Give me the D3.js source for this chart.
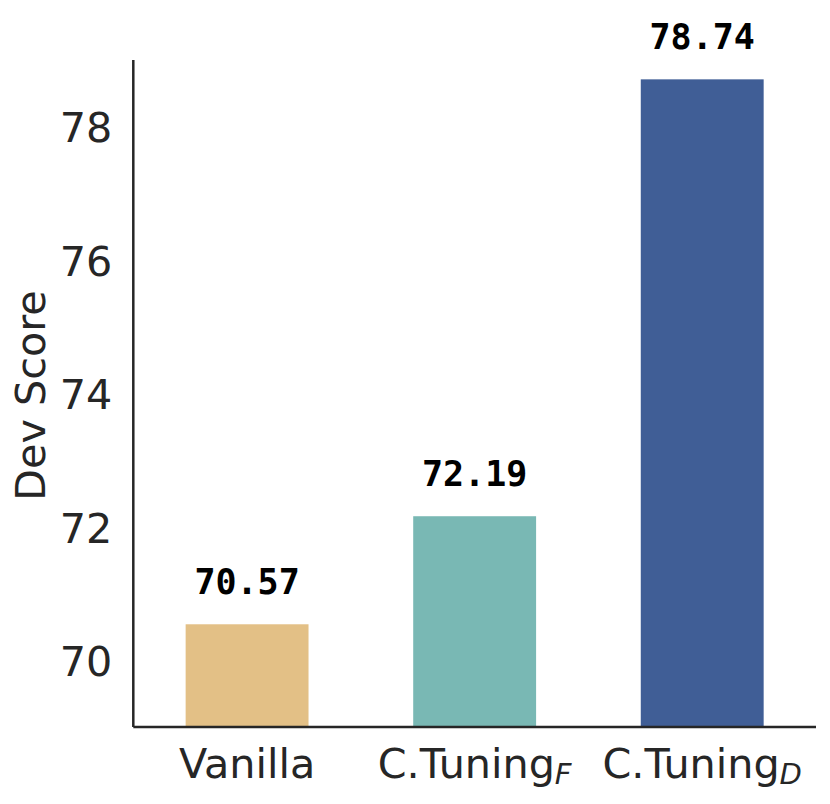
<!DOCTYPE html>
<html>
<head>
<meta charset="utf-8">
<script src="https://cdn.jsdelivr.net/npm/d3@7"></script>
<style>
  body { margin: 0; background: #fff; }
  svg { display: block; }
</style>
</head>
<body>
<svg id="chart" width="830" height="804"></svg>
<script>
const categories = ["Vanilla", "C.Tuning", "C.Tuning"];
const subscripts = ["", "F", "D"];
const values = [70.57, 72.19, 78.74];
const valueLabels = ["70.57", "72.19", "78.74"];
const colors = ["#E3C086", "#79B8B4", "#405E96"];
const yTicks = [70, 72, 74, 76, 78];
const yDomain = [69.03, 79.03];
const yLabel = "Dev Score";

const svg = d3.select("#chart");
const mLeft = 133.3, mRight = 816, mTop = 60, mBottom = 727;

const x = d3.scaleBand()
  .domain(d3.range(categories.length))
  .range([mLeft, mRight])
  .paddingInner(0.46)
  .paddingOuter(0.23);

const y = d3.scaleLinear().domain(yDomain).range([mBottom, mTop]);

const font = "DejaVu Sans, sans-serif";
const fs = 41.3;

// bars
svg.append("g").selectAll("rect")
  .data(values)
  .join("rect")
  .attr("x", (d, i) => x(i))
  .attr("width", x.bandwidth())
  .attr("y", d => y(d))
  .attr("height", d => y(yDomain[0]) - y(d))
  .attr("fill", (d, i) => colors[i]);

// value labels
svg.append("g").selectAll("text")
  .data(values)
  .join("text")
  .attr("x", (d, i) => x(i) + x.bandwidth() / 2)
  .attr("y", d => y(d) - 30)
  .attr("text-anchor", "middle")
  .attr("font-family", "DejaVu Sans Mono, monospace")
  .attr("font-weight", "bold")
  .attr("font-size", 35)
  .attr("fill", "#000")
  .text((d, i) => valueLabels[i]);

// y axis
const yAxis = d3.axisLeft(y).tickValues(yTicks).tickSize(0).tickPadding(21).tickFormat(d3.format("d"));
const gy = svg.append("g").attr("transform", `translate(${mLeft},0)`).call(yAxis);
gy.select(".domain").attr("stroke", "#262626").attr("stroke-width", 2.5).attr("d", `M0,${mTop}V${mBottom}`);
gy.selectAll(".tick text").attr("font-family", font).attr("font-size", fs).attr("fill", "#262626");

// x axis
const xAxis = d3.axisBottom(x).tickSize(0).tickPadding(0).tickFormat(() => "");
const gx = svg.append("g").attr("transform", `translate(0,${mBottom})`).call(xAxis);
gx.select(".domain").attr("stroke", "#262626").attr("stroke-width", 2.5).attr("d", `M${mLeft},0H${mRight}`);
gx.selectAll(".tick text").each(function(d) {
  const t = d3.select(this)
    .attr("y", 51)
    .attr("dy", null)
    .attr("font-family", font)
    .attr("font-size", fs)
    .attr("fill", "#262626")
    .attr("text-anchor", "middle");
  t.text(null);
  t.append("tspan").text(categories[d]);
  if (subscripts[d]) {
    t.append("tspan")
      .attr("font-size", 29)
      .attr("font-style", "italic")
      .attr("dy", 6)
      .text(subscripts[d]);
  }
});

// y label
svg.append("text")
  .attr("transform", `translate(45,${(mTop + mBottom) / 2 + 2}) rotate(-90)`)
  .attr("text-anchor", "middle")
  .attr("font-family", font)
  .attr("font-size", fs)
  .attr("fill", "#262626")
  .text(yLabel);
</script>
</body>
</html>
